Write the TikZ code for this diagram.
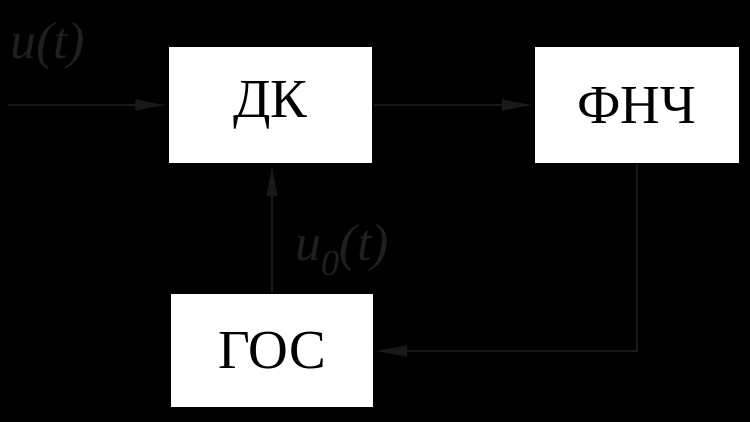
\documentclass[tikz,border=0pt]{standalone}
\usepackage{fontspec}
\setmainfont{Liberation Serif}
\usetikzlibrary{arrows.meta}
\begin{document}
\begin{tikzpicture}[x=1pt,y=-1pt,
  blockbox/.style={draw=black,fill=white,line width=1.5pt,minimum width=205pt,minimum height=117pt,inner sep=0pt,font=\fontsize{55}{58}\selectfont},
  conn/.style={draw=black!90!white,line width=1.2pt,-{Latex[length=32pt,width=12pt]}},
  sig/.style={text=black!88!white,inner sep=0pt,font=\fontsize{52}{56}\selectfont\itshape}]
\fill[black] (0,0) rectangle (750,422);
\useasboundingbox (0,0) rectangle (750,422);
\node[blockbox] (dk) at (270.5,105) {ДК};
\node[blockbox] (fnch) at (637,105) {ФНЧ};
\node[blockbox,minimum width=204pt,minimum height=115pt] (gos) at (272,350.5) {ГОС};
\coordinate (in) at (8,105);
\coordinate (corner) at (fnch.south |- 0,351);
\node[sig,anchor=west] (ut) at (10,46) {u(t)};
\node[sig,anchor=west] (u0t) at (295,250) {u\textsubscript{0}(t)};
\draw[conn] (in) -- (dk.west);
\draw[conn] (dk.east) -- (fnch.west);
\draw[conn] (gos.north -| 272,0) -- (dk.south -| 272,0);
\draw[conn] (fnch.south) -- (corner) -- (gos.east |- corner);
\end{tikzpicture}
\end{document}
